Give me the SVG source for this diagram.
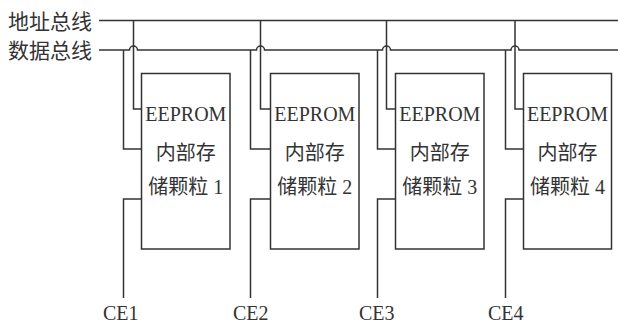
<svg xmlns="http://www.w3.org/2000/svg" width="618" height="325" viewBox="0 0 618 325">
<style>
.w{fill:none;stroke:#333;stroke-width:1.5}
.box{fill:#fff;stroke:#333;stroke-width:1.5}
text{font-family:"Liberation Serif","Noto Sans CJK SC",serif;font-size:20px;fill:#333}
.c{text-anchor:middle}
</style>
<rect width="618" height="325" fill="#fff"/>
<g id="labels">
<text x="8" y="29" style="font-size:21px">地址总线</text>
<text x="8" y="58" style="font-size:21px">数据总线</text>
</g>
<g id="connectors">
<path class="w" d="M99,20.5 H618"/>
<path class="w" d="M99,50 H129.5 a4,4 0 0 1 8,0 H256.5 a4,4 0 0 1 8,0 H382.5 a4,4 0 0 1 8,0 H511 a4,4 0 0 1 8,0 H618"/>
<path class="w" d="M133.5,20.5 V109 H141.5 M123.5,50 V149 H141.5 M123.5,298 V199 H141.5"/>
<path class="w" d="M260.5,20.5 V109 H270.5 M250.5,50 V149 H270.5 M250.5,298 V199 H270.5"/>
<path class="w" d="M386.5,20.5 V109 H395.5 M377.5,50 V149 H395.5 M377.5,298 V199 H395.5"/>
<path class="w" d="M515,20.5 V109 H523.5 M505.5,50 V149 H523.5 M505.5,298 V199 H523.5"/>
</g>
<g id="chip1">
<rect class="box" x="141.5" y="73.5" width="88.5" height="175.5"/>
<text class="c" x="185.8" y="120.5">EEPROM</text>
<text class="c" x="185.8" y="160">内部存</text>
<text class="c" x="185.8" y="193.5">储颗粒 1</text>
</g>
<g id="chip2">
<rect class="box" x="270.5" y="73.5" width="88.5" height="175.5"/>
<text class="c" x="314.8" y="120.5">EEPROM</text>
<text class="c" x="314.8" y="160">内部存</text>
<text class="c" x="314.8" y="193.5">储颗粒 2</text>
</g>
<g id="chip3">
<rect class="box" x="395.5" y="73.5" width="88.5" height="175.5"/>
<text class="c" x="439.8" y="120.5">EEPROM</text>
<text class="c" x="439.8" y="160">内部存</text>
<text class="c" x="439.8" y="193.5">储颗粒 3</text>
</g>
<g id="chip4">
<rect class="box" x="523.5" y="73.5" width="88" height="175.5"/>
<text class="c" x="567.5" y="120.5">EEPROM</text>
<text class="c" x="567.5" y="160">内部存</text>
<text class="c" x="567.5" y="193.5">储颗粒 4</text>
</g>
<g id="ce">
<text x="103" y="320">CE1</text>
<text x="233" y="320">CE2</text>
<text x="359" y="320">CE3</text>
<text x="488" y="320">CE4</text>
</g>
</svg>
